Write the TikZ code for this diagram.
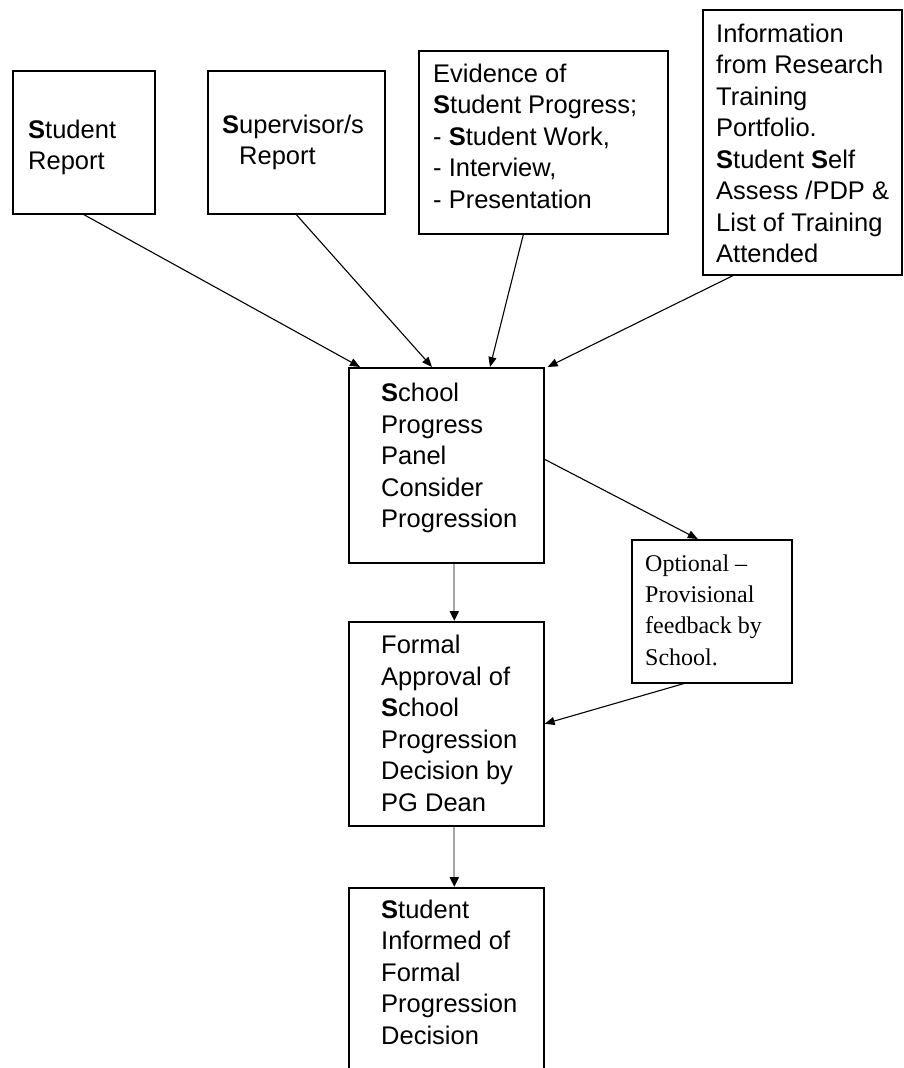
\documentclass[tikz,border=0pt]{standalone}
\usepackage{fontspec}
\setmainfont{Liberation Sans}
\newfontfamily\timesfont{Liberation Serif}
\usetikzlibrary{arrows.meta}

\begin{document}
\begin{tikzpicture}[
        x=1pt, y=-1pt,
        box/.style={
            draw,
            line width=1.6pt,
            inner sep=0pt,
            anchor=north west
        },
        txt/.style={
            anchor=north west,
            inner sep=0pt,
            align=left,
            font=\fontsize{25.5}{31.5}\selectfont
        },
        opttxt/.style={
            anchor=north west,
            inner sep=0pt,
            align=left,
            font=\timesfont\fontsize{24}{31.2}\selectfont
        },
        arr/.style={
            line width=1.1pt,
            -{Triangle[length=10pt,width=8pt]}
        },
        grayarr/.style={
            draw=black!35,
            line width=2pt,
            -{Triangle[length=10pt,width=9pt,color=black]}
        }
    ]
        \useasboundingbox (0,0) rectangle (903,1068);
        \clip (0,0) rectangle (903,1068);

        % Inputs (top row)
        \node[box, minimum width=142pt, minimum height=143pt] (srep) at (12,70) {};
        \node[box, minimum width=177pt, minimum height=143pt] (suprep) at (207,70) {};
        \node[box, minimum width=249pt, minimum height=183pt] (evid) at (418,50) {};
        \node[box, minimum width=199pt, minimum height=265pt] (info) at (702,9) {};

        \node[txt] (srep-t) at (28,119.6) {\textbf{S}tudent\\Report};
        \node[txt] (suprep-t) at (222,114.4) {\textbf{S}upervisor/s\\\hspace*{17pt}Report};
        \node[txt] (evid-t) at (433,63.6) {
            Evidence of\\
            \textbf{S}tudent Progress;\\
            - \textbf{S}tudent Work,\\
            - Interview,\\
            - Presentation
        };
        \node[txt] (info-t) at (716,23.4) {
            Information\\
            from Research\\
            Training\\
            Portfolio.\\
            \textbf{S}tudent \textbf{S}elf\\
            Assess /PDP \&\\
            List of Training\\
            Attended
        };

        % Panel and optional feedback
        \node[box, minimum width=195pt, minimum height=195pt] (school) at (348,367) {};
        \node[txt] (school-t) at (381,383.3) {
            \textbf{S}chool\\
            Progress\\
            Panel\\
            Consider\\
            Progression
        };
        \node[box, minimum width=160pt, minimum height=143pt] (opt) at (631,539) {};
        \node[opttxt] (opt-t) at (645,554.7) {
            Optional –\\
            Provisional\\
            feedback by\\
            School.
        };

        % Approval and outcome
        \node[box, minimum width=195pt, minimum height=204pt] (formal) at (348,621) {};
        \node[txt] (formal-t) at (381,635) {
            Formal\\
            Approval of\\
            \textbf{S}chool\\
            Progression\\
            Decision by\\
            PG Dean
        };
        \node[box, minimum width=195pt, minimum height=250pt] (informed) at (348,887) {};
        \node[txt] (informed-t) at (381,899.6) {
            \textbf{S}tudent\\
            Informed of\\
            Formal\\
            Progression\\
            Decision
        };

        % Connectors
        \draw[arr] (srep.south) -- ([xshift=12pt]school.north west);
        \draw[arr] (suprep.south) -- ([xshift=84pt]school.north west);
        \draw[arr] ([xshift=-20pt]evid.south) -- ([xshift=142pt]school.north west);
        \draw[arr] ([xshift=31pt]info.south west) -- ([xshift=3pt]school.north east);
        \draw[arr] ([yshift=6pt]school.east) -- ([xshift=-14pt]opt.north);
        \draw[grayarr] ([xshift=8pt]school.south) -- ([xshift=8pt]formal.north);
        \draw[arr] ([xshift=-28pt]opt.south) -- (formal.east);
        \draw[grayarr] ([xshift=8pt]formal.south) -- ([xshift=8pt]informed.north);

    \end{tikzpicture}
\end{document}
